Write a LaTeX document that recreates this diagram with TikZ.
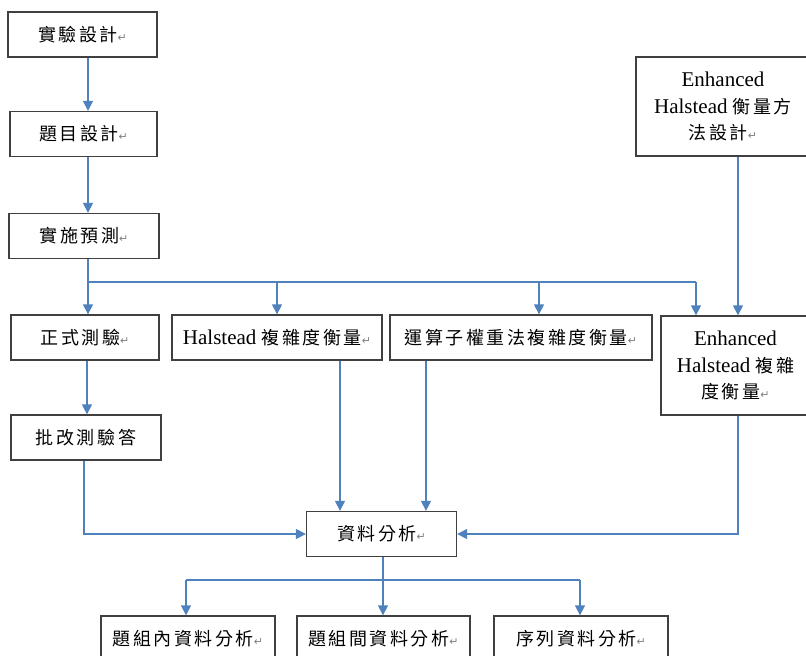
\documentclass[tikz,border=0pt]{standalone}
\usepackage{fontspec}
\setmainfont{Liberation Serif}
\newfontfamily\cjk[LetterSpace=14]{Noto Sans CJK TC}
\newfontfamily\symfont{DejaVu Sans}
\usetikzlibrary{arrows.meta}
\definecolor{linkblue}{RGB}{79,129,189}
\newcommand{\zh}[1]{{\cjk\fontsize{18}{26}\selectfont #1}}
\newcommand{\retmark}{{\symfont\fontsize{11}{11}\selectfont\textcolor{gray}{↵}}}

\begin{document}
\begin{tikzpicture}[x=1pt,y=-1pt,
    box/.style={draw=black!75,line width=1.3pt,inner sep=0pt,align=center,
      minimum height=45pt,font=\fontsize{21}{26.5}\selectfont},
    wire/.style={color=linkblue,line width=1.3pt},
    link/.style={wire,-{Triangle[length=10pt,width=10pt]}}]
        \useasboundingbox (0,0) rectangle (806,656);
        \node[box,minimum width=149pt] (N0) at (82.5,34.5) {\zh{實驗設計}\retmark};
        \node[box,minimum width=147pt] (N1) at (83.5,134) {\zh{題目設計}\retmark};
        \node[box,minimum width=150pt] (N2) at (84,236) {\zh{實施預測}\retmark};
        \node[box,minimum width=174pt,minimum height=99pt] (N3) at (723,106.5)
          {Enhanced\\Halstead \zh{衡量方}\\\zh{法設計}\retmark};
        \node[box,minimum width=148pt] (N4) at (85,337.5) {\zh{正式測驗}\retmark};
        \node[box,minimum width=210pt] (N5) at (277,337.5) {Halstead \zh{複雜度衡量}\retmark};
        \node[box,minimum width=262pt] (N6) at (521,337.5) {\zh{運算子權重法複雜度衡量}\retmark};
        \node[box,minimum width=149pt,minimum height=99pt] (N7) at (735.5,365.5)
          {Enhanced\\Halstead \zh{複雜}\\\zh{度衡量}\retmark};
        \node[box,minimum width=150pt] (N8) at (86,437.5) {\zh{批改測驗答}};
        \node[box,minimum width=150pt] (N9) at (381.5,534) {\zh{資料分析}\retmark};
        \node[box,minimum width=174pt] (N10) at (188,638.5) {\zh{題組內資料分析}\retmark};
        \node[box,minimum width=173pt] (N11) at (383.5,638.5) {\zh{題組間資料分析}\retmark};
        \node[box,minimum width=174pt] (N12) at (581,638.5) {\zh{序列資料分析}\retmark};
        % branch points
        \coordinate (J1) at (88,282);
        \coordinate (J2) at (277,282);
        \coordinate (J3) at (539,282);
        \coordinate (J4) at (696,282);
        \coordinate (K1) at (738,200);
        \coordinate (J5) at (383,580);
        \coordinate (J6) at (186,580);
        \coordinate (J7) at (580,580);
        \path[link] ([xshift=5.5pt]N0.south) edge ([xshift=4.5pt]N1.north)
        ([xshift=4.5pt]N1.south) edge ([xshift=4pt]N2.north);
        \draw[wire] ([xshift=4pt]N2.south) -- (J1) -- (J4);
        \path[link] (J1) edge (N4.north -| J1)
        (J2) edge (N5.north)  (J3) edge (N6.north -| J3)
        (J4) edge (N7.north -| J4)  (N3.south -| K1) edge (N7.north -| K1)
        ([xshift=2pt]N4.south) edge ([xshift=1pt]N8.north)
        ([xshift=63pt]N5.south) edge ([xshift=-41.5pt]N9.north)
        ([xshift=-95pt]N6.south) edge ([xshift=44.5pt]N9.north);
        \draw[link] ([xshift=-2pt]N8.south) |- (N9.west);
        \draw[link] (N7.south -| K1) |- (N9.east);
        \draw[wire] ([xshift=1.5pt]N9.south) -- (J5);
        \draw[wire] (J6) -- (J7);
        \path[link] (J6) edge (N10.north -| J6)
        (J5) edge (N11.north -| J5)  (J7) edge (N12.north -| J7);
      \end{tikzpicture}
\end{document}
